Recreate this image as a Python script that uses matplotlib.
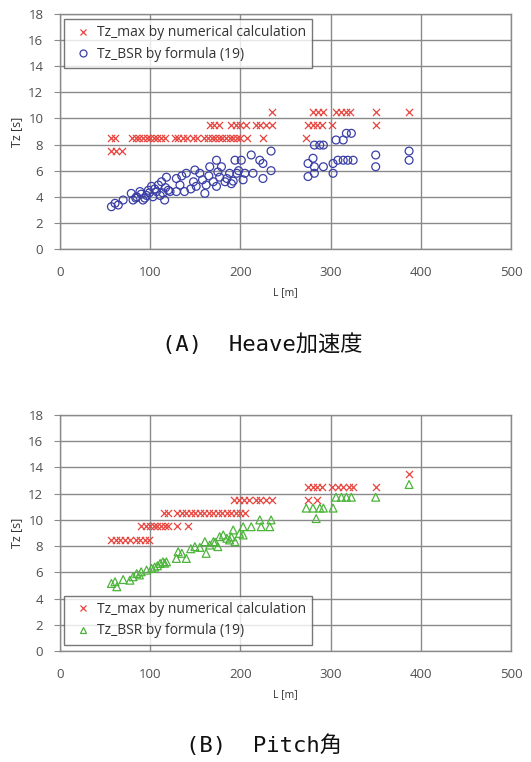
import matplotlib
matplotlib.use("Agg")
import matplotlib.pyplot as plt
from matplotlib.lines import Line2D

# ---------------- data: (A) Heave ----------------
heave_max_L = [56, 62, 69,
               57, 61, 80, 84, 88, 92, 96, 100, 104, 108, 112, 116, 127, 131, 136, 141, 147, 152,
               160, 164, 168, 172, 176, 180, 184, 188, 192, 196, 200, 207, 225, 273,
               166, 171, 176, 190, 195, 200, 206, 217, 222, 228, 235, 275, 280, 285, 290, 302, 350,
               235, 280, 286, 292, 306, 312, 317, 322, 350, 387]
heave_max_T = [7.5, 7.5, 7.5,
               8.5, 8.5, 8.5, 8.5, 8.5, 8.5, 8.5, 8.5, 8.5, 8.5, 8.5, 8.5, 8.5, 8.5, 8.5, 8.5, 8.5, 8.5,
               8.5, 8.5, 8.5, 8.5, 8.5, 8.5, 8.5, 8.5, 8.5, 8.5, 8.5, 8.5, 8.5, 8.5,
               9.5, 9.5, 9.5, 9.5, 9.5, 9.5, 9.5, 9.5, 9.5, 9.5, 9.5, 9.5, 9.5, 9.5, 9.5, 9.5, 9.5,
               10.5, 10.5, 10.5, 10.5, 10.5, 10.5, 10.5, 10.5, 10.5, 10.5]

heave_bsr_L = [57, 61, 64.6, 70, 79, 81, 85, 88.6, 92, 96, 98, 101.5, 103, 107, 109, 112.6, 114, 116, 118, 120,
               129, 129, 133, 138, 140, 148, 149.5, 151, 155, 160.6, 162, 166, 170, 173.5, 173.5, 177, 179,
               183, 188, 190, 194, 196, 201, 203, 205, 212, 214, 221.5, 225, 225, 234, 234,
               275, 275, 280.5, 282, 282, 282, 288, 292, 292, 302.7, 302.7, 306, 314, 317.5, 323,
               308, 314, 319, 325, 350, 350, 387, 387,
               84, 90, 94, 99, 105, 111, 117, 122, 135, 145, 158, 165, 175, 185, 192, 198]
heave_bsr_T = [3.24, 3.5, 3.37, 3.75, 4.26, 3.75, 4.0, 4.4, 3.75, 4.1, 4.5, 4.8, 4.0, 4.4, 4.9, 5.15, 4.3, 3.75, 5.5, 4.5,
               5.4, 4.4, 4.9, 4.4, 5.8, 5.15, 6.05, 4.8, 5.8, 4.26, 4.9, 6.3, 5.15, 6.8, 4.8, 5.5, 6.3,
               5.15, 5.8, 5.0, 6.8, 5.8, 6.8, 5.3, 5.8, 7.2, 5.8, 6.8, 6.55, 5.4, 7.5, 6.0,
               6.55, 5.55, 6.95, 6.3, 5.8, 7.96, 7.96, 7.96, 6.3, 6.55, 5.8, 8.35, 8.35, 8.86, 8.86,
               6.8, 6.8, 6.8, 6.8, 7.2, 6.3, 7.5, 6.8,
               3.9, 4.2, 3.9, 4.3, 4.6, 4.1, 4.7, 4.4, 5.6, 4.6, 5.3, 5.6, 5.9, 5.4, 5.2, 6.0]

# ---------------- data: (B) Pitch ----------------
pitch_max_L = [57, 62, 67, 72, 78, 84, 89, 94, 99,
               90, 95, 100, 104, 108, 112, 116, 120, 130, 142,
               115, 120, 130, 135, 140, 145, 150, 155, 160, 165, 170, 175, 180, 185, 190, 195, 200, 205,
               193, 198, 204, 210, 217, 222, 228, 235, 275, 285,
               275, 280, 285, 290, 302, 308, 314, 320, 325, 350,
               387]
pitch_max_T = [8.5] * 9 + [9.5] * 10 + [10.5] * 18 + [11.5] * 10 + [12.5] * 10 + [13.5]

pitch_bsr_L = [57, 61, 63, 70, 77.5, 81, 85, 90, 96, 101.5, 105, 111, 114, 118,
               129, 131, 135, 140, 149.5, 160.6, 162, 166, 170, 175, 177, 181, 185, 188,
               192, 194, 199, 203, 203, 212, 221.5, 223, 232.5, 234,
               273, 280.5, 284, 288, 292, 302.7, 306, 312, 317.5, 323, 350, 387,
               88, 108, 116, 145, 155, 172, 190]
pitch_bsr_T = [5.15, 5.28, 4.9, 5.45, 5.4, 5.66, 5.9, 6.04, 6.17, 6.3, 6.4, 6.68, 6.8, 6.8,
               7.06, 7.57, 7.45, 7.06, 7.96, 8.34, 7.45, 8.08, 8.34, 7.96, 8.72, 8.85, 8.6, 8.47,
               9.23, 8.34, 8.97, 9.48, 8.85, 9.48, 10.0, 9.48, 9.48, 10.0,
               10.9, 10.9, 10.1, 10.9, 10.9, 10.9, 11.73, 11.73, 11.73, 11.73, 11.73, 12.7,
               5.8, 6.5, 6.7, 7.8, 7.9, 8.3, 8.7]

x_ticks = [0, 100, 200, 300, 400, 500]
y_ticks = [0, 2, 4, 6, 8, 10, 12, 14, 16, 18]
label_max = "Tz_max by numerical calculation"
label_bsr = "Tz_BSR by formula (19)"
caption_a = "(A)  Heave加速度"
caption_b = "(B)  Pitch角"

RED = "#e8453f"
BLUE = "#3b3fa6"
GREEN = "#4cb43a"
GRID = "#8a8a8a"

plt.rcParams['font.family'] = ['Open Sans', 'DejaVu Sans']

fig = plt.figure(figsize=(5.31, 7.62), dpi=100)


def style_axes(ax):
    ax.set_xlim(0, 500)
    ax.set_ylim(0, 18)
    ax.set_xticks(x_ticks)
    ax.set_yticks(y_ticks)
    ax.grid(True, color=GRID, linewidth=1.0)
    ax.set_axisbelow(True)
    for s in ax.spines.values():
        s.set_color(GRID)
        s.set_linewidth(1.0)
    ax.tick_params(axis='both', labelsize=9.5, colors='#505050', length=4, width=0.8, color=GRID)
    ax.tick_params(axis='y', pad=8)
    ax.tick_params(axis='x', length=0, pad=12)
    ax.set_xlabel("L [m]", fontsize=7.5, color='#333333', labelpad=6)
    ax.set_ylabel("Tz [s]", fontsize=9, color='#333333', labelpad=4)


# ---- top chart ----
ax1 = fig.add_axes([60 / 531, 1 - 249 / 762, 451 / 531, 235 / 762])
style_axes(ax1)
ax1.scatter(heave_max_L, heave_max_T, marker='x', s=26, color=RED, linewidths=0.9, zorder=3)
ax1.scatter(heave_bsr_L, heave_bsr_T, marker='o', s=32, facecolors='none', edgecolors=BLUE,
            linewidths=0.9, zorder=3)
h1 = [Line2D([], [], marker='x', color=RED, linestyle='none', markersize=5, markeredgewidth=0.9),
      Line2D([], [], marker='o', color=BLUE, markerfacecolor='none', linestyle='none', markersize=5,
             markeredgewidth=0.9)]
leg1 = ax1.legend(h1, [label_max, label_bsr], loc='upper left', bbox_to_anchor=(0.003, 0.99),
                  fontsize=10, frameon=True, fancybox=False, edgecolor='#555555',
                  handletextpad=0.1, borderpad=0.45, labelspacing=0.45, handlelength=1.8,
                  borderaxespad=0.2)
leg1.get_frame().set_linewidth(1.0)
for t in leg1.get_texts():
    t.set_color('#333333')

# ---- bottom chart ----
ax2 = fig.add_axes([60 / 531, 1 - 651 / 762, 451 / 531, 236 / 762])
style_axes(ax2)
ax2.scatter(pitch_max_L, pitch_max_T, marker='x', s=26, color=RED, linewidths=0.9, zorder=3)
ax2.scatter(pitch_bsr_L, pitch_bsr_T, marker='^', s=32, facecolors='none', edgecolors=GREEN,
            linewidths=0.9, zorder=3)
h2 = [Line2D([], [], marker='x', color=RED, linestyle='none', markersize=5, markeredgewidth=0.9),
      Line2D([], [], marker='^', color=GREEN, markerfacecolor='none', linestyle='none', markersize=5,
             markeredgewidth=0.9)]
leg2 = ax2.legend(h2, [label_max, label_bsr], loc='lower left', bbox_to_anchor=(0.003, 0.015),
                  fontsize=10, frameon=True, fancybox=False, edgecolor='#555555',
                  handletextpad=0.1, borderpad=0.45, labelspacing=0.45, handlelength=1.8,
                  borderaxespad=0.2)
leg2.get_frame().set_linewidth(1.0)
for t in leg2.get_texts():
    t.set_color('#333333')

# ---- captions ----
cap_family = ['DejaVu Sans Mono', 'Noto Sans CJK JP']
fig.text(262 / 531, 1 - 344 / 762, caption_a, ha='center', va='center', fontsize=16,
         family=cap_family, color='#111111')
fig.text(264 / 531, 1 - 745 / 762, caption_b, ha='center', va='center', fontsize=16,
         family=cap_family, color='#111111')

fig.savefig("out.png", dpi=100)
